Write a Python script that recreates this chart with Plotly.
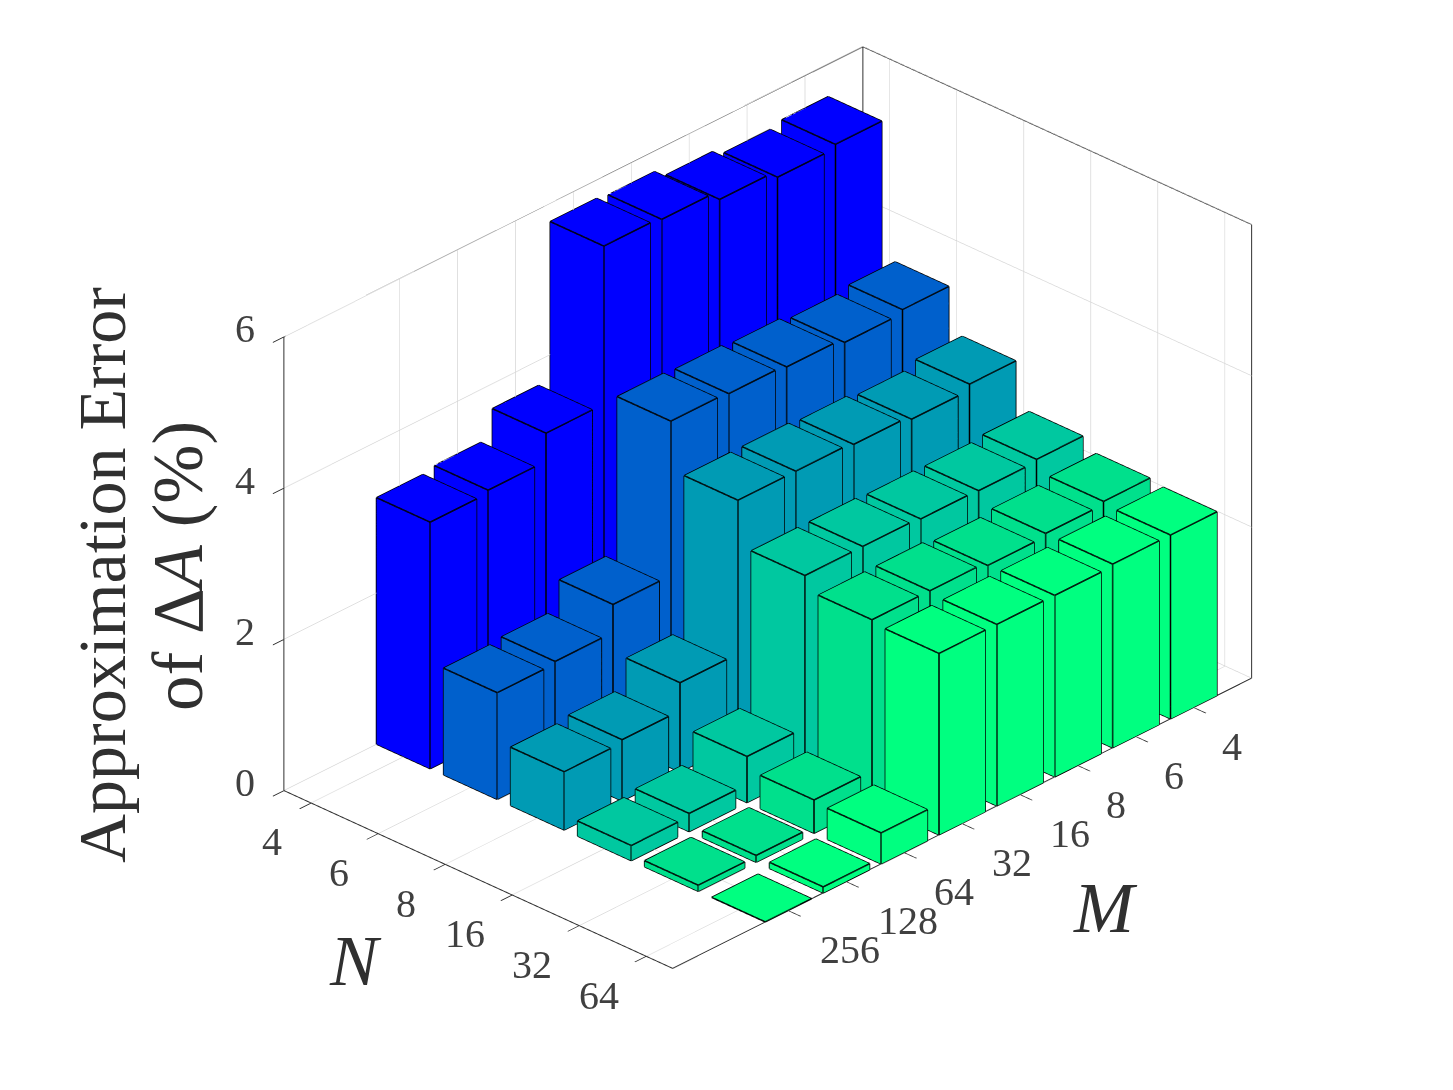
import plotly.graph_objects as go

M_labels = ['4', '6', '8', '16', '32', '64', '128', '256']
N_labels = ['4', '6', '8', '16', '32', '64']
z_ticks = [0, 2, 4, 6]

err_N4 = [5.57, 5.52, 5.61, 5.73, 5.76, 3.67, 3.30, 3.26]
err_N6 = [3.79, 3.74, 3.80, 3.83, 3.85, 1.81, 1.44, 1.41]
err_N8 = [3.21, 3.13, 3.18, 3.21, 3.21, 1.18, 0.81, 0.77]
err_N16 = [2.62, 2.59, 2.60, 2.62, 2.62, 0.61, 0.24, 0.20]
err_N32 = [2.47, 2.43, 2.39, 2.44, 2.44, 0.44, 0.09, 0.08]
err_N64 = [2.43, 2.43, 2.40, 2.40, 2.40, 0.41, 0.08, 0.00]
errors = [err_N4, err_N6, err_N8, err_N16, err_N32, err_N64]

colors = ['#0000ff', '#0060cc', '#009bb4', '#00c8a0', '#00e08c', '#00ff80']

width = 0.8
xlim = [0, 10]
ylim = [0.6, 6.4]
zlim = [0, 6]
serif = 'Liberation Serif'
txt = '#404040'
title_col = '#303030'

fig = go.Figure()

# back walls, drawn first
wx = [xlim[0], xlim[0], xlim[0], xlim[0], None,
      xlim[0], xlim[0], xlim[1], xlim[1], None,
      xlim[1], xlim[1], xlim[0], None,
      xlim[1], xlim[1]]
wy = [ylim[1], ylim[1], ylim[0], ylim[0], None,
      ylim[0], ylim[0], ylim[0], ylim[0], None,
      ylim[0], ylim[1], ylim[1], None,
      ylim[0], ylim[0]]
wz = [zlim[0], zlim[1], zlim[1], zlim[0], None,
      zlim[1], zlim[1], zlim[1], zlim[0], None,
      zlim[0], zlim[0], zlim[0], None,
      zlim[0], zlim[0]]
fig.add_trace(go.Scatter3d(x=wx, y=wy, z=wz, mode='lines',
                           line=dict(color='#303030', width=2),
                           hoverinfo='skip', showlegend=False))

# bars, one mesh per N
for j, row in enumerate(errors):
    vx, vy, vz, fi, fj, fk = [], [], [], [], [], []
    ex, ey, ez = [], [], []
    for i, h in enumerate(row):
        x0, x1 = i + 1 - width / 2, i + 1 + width / 2
        y0, y1 = j + 1 - width / 2, j + 1 + width / 2
        n = len(vx)
        vx += [x0, x1, x1, x0, x0, x1, x1, x0]
        vy += [y0, y0, y1, y1, y0, y0, y1, y1]
        vz += [0, 0, 0, 0, h, h, h, h]
        quads = [(0, 1, 2, 3), (4, 5, 6, 7), (0, 1, 5, 4),
                 (1, 2, 6, 5), (2, 3, 7, 6), (3, 0, 4, 7)]
        for a, b, c, d in quads:
            fi += [n + a, n + a]
            fj += [n + b, n + c]
            fk += [n + c, n + d]
        for a, b in [(0, 1), (1, 2), (2, 3), (3, 0), (4, 5), (5, 6),
                     (6, 7), (7, 4), (0, 4), (1, 5), (2, 6), (3, 7)]:
            ex += [vx[n + a], vx[n + b], None]
            ey += [vy[n + a], vy[n + b], None]
            ez += [vz[n + a], vz[n + b], None]
    fig.add_trace(go.Mesh3d(x=vx, y=vy, z=vz, i=fi, j=fj, k=fk,
                            color=colors[j], flatshading=True,
                            lighting=dict(ambient=1, diffuse=0, specular=0,
                                          roughness=1, fresnel=0),
                            hoverinfo='skip', showlegend=False))
    fig.add_trace(go.Scatter3d(x=ex, y=ey, z=ez, mode='lines',
                               line=dict(color='#000000', width=3),
                               hoverinfo='skip', showlegend=False))

axis_style = dict(showbackground=False, showline=False, zeroline=False,
                  showgrid=True, gridcolor='#d6d6d6', gridwidth=1.5,
                  ticks='outside', ticklen=16, tickwidth=2, tickcolor='#303030',
                  showspikes=False, title=dict(text=''), showticklabels=False)

tick_notes = []
for i, lab in enumerate(M_labels):
    tick_notes.append(dict(x=i + 1, y=ylim[1], z=0, text=lab, showarrow=False,
                           xshift=26 + 12 * len(lab), yshift=-39,
                           font=dict(family=serif, size=40, color=txt)))
for j, lab in enumerate(N_labels):
    tick_notes.append(dict(x=xlim[1], y=j + 1, z=0, text=lab, showarrow=False,
                           xshift=-31 - 8 * len(lab), yshift=-39,
                           font=dict(family=serif, size=40, color=txt)))
for v in z_ticks:
    tick_notes.append(dict(x=xlim[1], y=ylim[0], z=v, text=str(v), showarrow=False,
                           xshift=-39, yshift=8,
                           font=dict(family=serif, size=40, color=txt)))

fig.update_layout(
    width=1453, height=1090,
    margin=dict(l=0, r=0, t=0, b=0),
    paper_bgcolor='white',
    showlegend=False,
    scene=dict(
        domain=dict(x=[83 / 1453, 1], y=[74 / 1090, 1]),
        xaxis=dict(range=xlim, tickvals=list(range(1, 9)), **axis_style),
        # small pads so lines on the edges aren't clipped
        yaxis=dict(range=[ylim[0], ylim[1] + 0.01], tickvals=list(range(1, 7)), **axis_style),
        zaxis=dict(range=[zlim[0] - 0.005, zlim[1]], tickvals=z_ticks, **axis_style),
        aspectmode='manual',
        aspectratio=dict(x=1.65, y=1.06, z=1.018),
        camera=dict(projection=dict(type='orthographic'),
                    up=dict(x=0, y=0, z=1),
                    center=dict(x=-0.0052, y=0.0165, z=-0.014),
                    eye=dict(x=1.249, y=1.2145, z=0.932)),
        annotations=tick_notes,
    ),
    annotations=[
        dict(text='Approximation Error', xref='paper', yref='paper', x=94 / 1453, y=1 - 567 / 1090,
             xanchor='center', yanchor='middle',
             textangle=-90, showarrow=False, font=dict(family=serif, size=68, color=title_col)),
        dict(text='of Δ<i>A</i> (%)', xref='paper', yref='paper', x=170 / 1453, y=1 - 558 / 1090,
             xanchor='center', yanchor='middle',
             textangle=-90, showarrow=False, font=dict(family=serif, size=71, color=title_col)),
        dict(text='<i>N</i>', xref='paper', yref='paper', x=347 / 1453, y=1 - 953 / 1090,
             xanchor='center', yanchor='middle',
             showarrow=False, font=dict(family=serif, size=72, color=title_col)),
        dict(text='<i>M</i>', xref='paper', yref='paper', x=1097 / 1453, y=1 - 900 / 1090,
             xanchor='center', yanchor='middle',
             showarrow=False, font=dict(family=serif, size=72, color=title_col)),
    ],
)

fig.write_html("out.html")
